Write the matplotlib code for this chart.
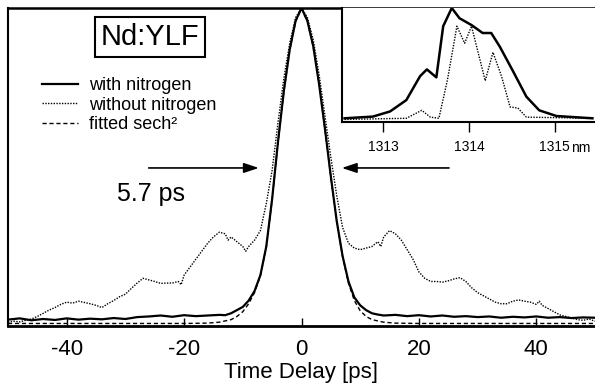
import matplotlib.pyplot as plt

plt.rcParams['font.family'] = ['Liberation Sans', 'DejaVu Sans']

# autocorrelation traces (time delay in ps, normalised intensity)
t_with = [-50, -48, -46, -44, -42, -40, -38, -36, -34, -32, -30, -28, -26, -24, -22,
          -20, -18, -16, -14, -13, -12, -11, -10, -9, -8, -7, -6, -5, -4, -3, -2, -1,
          0, 1, 2, 3, 4, 5, 6, 7, 8, 9, 10, 11, 12, 13, 14, 16, 18, 20, 22, 24, 26,
          28, 30, 32, 34, 36, 38, 40, 42, 44, 46, 48, 50]
i_with = [0.020, 0.024, 0.018, 0.022, 0.019, 0.024, 0.020, 0.023, 0.021, 0.025, 0.022, 0.028, 0.030, 0.033, 0.029,
          0.034, 0.031, 0.033, 0.035, 0.034, 0.040, 0.050, 0.060, 0.080, 0.110, 0.160, 0.250, 0.400, 0.580, 0.740, 0.870, 0.960,
          1.000, 0.960, 0.880, 0.760, 0.620, 0.470, 0.330, 0.220, 0.140, 0.090, 0.065, 0.050, 0.040, 0.036, 0.033, 0.035, 0.031, 0.034, 0.030, 0.033, 0.029,
          0.031, 0.028, 0.030, 0.026, 0.029, 0.027, 0.030, 0.026, 0.028, 0.025, 0.027, 0.026]

t_without = [-50, -49, -48, -47, -46, -45, -44, -43, -42, -41, -40, -39, -38, -37, -36, -35, -34,
             -33, -32, -31, -30, -29, -28, -27, -26, -25, -24, -23, -22, -21, -20.5, -20, -19,
             -18, -17, -16, -15, -14, -13, -12.5, -12, -11, -10, -9.5, -9, -8, -7, -6, -5, -4,
             -3, -2, -1, 0, 1, 2, 3, 4, 5, 6, 7, 8, 9, 10, 11, 12, 13, 13.5, 14, 15, 16, 17,
             18, 19, 20, 21, 22, 23, 24, 25, 26, 27, 28, 29, 30, 31, 32, 33, 34, 35, 36, 37,
             38, 39, 40, 40.5, 41, 42, 43, 44, 45, 46, 47, 48, 49, 50]
i_without = [0.012, 0.015, 0.013, 0.018, 0.022, 0.030, 0.040, 0.050, 0.058, 0.068, 0.075, 0.072, 0.078, 0.074, 0.070, 0.065, 0.058,
             0.070, 0.080, 0.092, 0.100, 0.118, 0.135, 0.150, 0.145, 0.140, 0.134, 0.135, 0.135, 0.140, 0.130, 0.160, 0.185,
             0.210, 0.235, 0.260, 0.280, 0.295, 0.290, 0.270, 0.280, 0.265, 0.250, 0.235, 0.250, 0.270, 0.300, 0.385, 0.490, 0.640,
             0.780, 0.890, 0.970, 1.000, 0.970, 0.900, 0.790, 0.660, 0.530, 0.410, 0.310, 0.260, 0.245, 0.240, 0.245, 0.250, 0.265, 0.250, 0.280, 0.300, 0.290, 0.270,
             0.240, 0.210, 0.170, 0.150, 0.140, 0.140, 0.138, 0.142, 0.148, 0.152, 0.140, 0.120, 0.105, 0.095, 0.085, 0.075, 0.070, 0.070, 0.078, 0.082,
             0.078, 0.075, 0.068, 0.078, 0.065, 0.055, 0.045, 0.035, 0.030, 0.025, 0.020, 0.018, 0.022, 0.015]

t_fit = [-50, -30, -20, -16, -14, -12, -11, -10, -9, -8, -7, -6, -5, -4, -3, -2, -1, 0,
         1, 2, 3, 4, 5, 6, 7, 8, 9, 10, 11, 12, 14, 16, 20, 30, 50]
i_fit = [0.008, 0.008, 0.008, 0.009, 0.012, 0.020, 0.030, 0.045, 0.070, 0.105, 0.158, 0.248, 0.398, 0.578, 0.738, 0.868, 0.958, 0.998,
         0.958, 0.878, 0.758, 0.618, 0.468, 0.328, 0.218, 0.135, 0.080, 0.048, 0.030, 0.020, 0.012, 0.009, 0.008, 0.008, 0.008]

# inset spectra (wavelength in nm)
wl_with = [1312.55, 1312.88, 1313.08, 1313.27, 1313.43, 1313.51, 1313.62, 1313.70, 1313.80, 1313.89,
           1314.03, 1314.16, 1314.26, 1314.36, 1314.51, 1314.67, 1314.82, 1315.02, 1315.44]
s_with = [0.03, 0.045, 0.09, 0.19, 0.40, 0.46, 0.39, 0.84, 1.00, 0.91,
          0.85, 0.78, 0.78, 0.66, 0.45, 0.22, 0.10, 0.05, 0.03]
wl_without = [1312.55, 1313.27, 1313.45, 1313.55, 1313.65, 1313.75, 1313.86, 1313.95, 1314.03, 1314.10,
              1314.19, 1314.28, 1314.38, 1314.48, 1314.57, 1314.67, 1315.44]
s_without = [0.02, 0.03, 0.10, 0.04, 0.03, 0.37, 0.84, 0.69, 0.84, 0.63,
             0.36, 0.61, 0.40, 0.13, 0.12, 0.04, 0.03]

time_ticks = [-40, -20, 0, 20, 40]
wl_ticks = [1313, 1314, 1315]

fig = plt.figure(figsize=(5.95, 3.85), dpi=100)
ax = fig.add_axes([8 / 595, 59 / 385, 587 / 595, 318 / 385])

ax.plot(t_fit, i_fit, color='black', lw=1.0, ls=(0, (3, 2)), label='fitted sech²', zorder=2)
ax.plot(t_without, i_without, color='black', lw=1.0, ls=(0, (1, 1)), label='without nitrogen', zorder=3)
ax.plot(t_with, i_with, color='black', lw=1.6, label='with nitrogen', zorder=4)

ax.set_xlim(-50, 50)
ax.set_ylim(0, 1.0)
ax.set_xticks(time_ticks)
ax.set_xticklabels([str(v) for v in time_ticks], fontsize=16)
ax.set_yticks([])
ax.tick_params(axis='x', direction='in', length=6, width=1, pad=9.5)
ax.set_xlabel('Time Delay [ps]', fontsize=16, labelpad=1)
ax.spines['right'].set_visible(False)
ax.spines['left'].set_linewidth(1.5)
ax.spines['top'].set_linewidth(1.8)
ax.spines['bottom'].set_linewidth(2.0)

handles, labels = ax.get_legend_handles_labels()
order = [2, 1, 0]
ax.legend([handles[k] for k in order], [labels[k] for k in order],
          loc='upper left', bbox_to_anchor=(42 / 595, 1 - 77 / 385), bbox_transform=fig.transFigure,
          frameon=False, fontsize=13, handlelength=2.0, handletextpad=0.6,
          labelspacing=0.15, borderpad=0, borderaxespad=0)

fig.text(150 / 595, 1 - 37 / 385, 'Nd:YLF', fontsize=21, ha='center', va='center',
         bbox=dict(boxstyle='square,pad=0.2', fc='white', ec='black', lw=1.5))
fig.text(151 / 595, 1 - 194 / 385, '5.7 ps', fontsize=18, ha='center', va='center')

arrow_style = dict(arrowstyle='-|>,head_length=0.9,head_width=0.3', color='black', lw=1.2)
ax.annotate('', xy=(-6.8, 0.497), xytext=(-26.5, 0.497), arrowprops=arrow_style)
ax.annotate('', xy=(6.4, 0.497), xytext=(25.6, 0.497), arrowprops=arrow_style)

ins = fig.add_axes([342 / 595, 1 - 121.7 / 385, 253 / 595, 113.7 / 385])
ins.plot(wl_without, s_without, color='black', lw=1.0, ls=(0, (1, 1)))
ins.plot(wl_with, s_with, color='black', lw=1.8)
ins.set_xlim(1312.52, 1315.47)
ins.set_ylim(0, 1.0)
ins.set_xticks(wl_ticks)
ins.set_xticklabels([str(v) for v in wl_ticks], fontsize=10)
ins.set_yticks([])
ins.tick_params(axis='x', direction='out', length=7, width=1, pad=6.5)
ins.spines['right'].set_visible(False)
ins.spines['top'].set_visible(False)
ins.spines['left'].set_linewidth(1.5)
ins.spines['bottom'].set_linewidth(1.5)
# unit label sits on the same baseline as the tick labels
label_base = ins.get_xticklabels()[-1]
ins.annotate('nm', xy=(1, 0.2), xycoords=label_base, xytext=(0.5, 0), textcoords='offset points',
             fontsize=10, ha='left', va='baseline')

fig.savefig('out.png', dpi=100)
